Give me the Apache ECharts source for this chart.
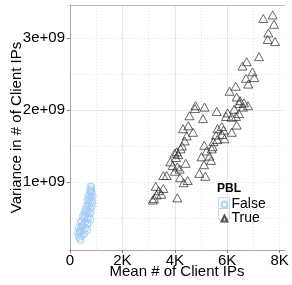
<!DOCTYPE html>
<html>
<head>
<meta charset="utf-8">
<script src="https://cdn.jsdelivr.net/npm/echarts@6/dist/echarts.min.js"></script>
<style>
html, body { margin: 0; padding: 0; background: #fff; }
#chart { width: 292px; height: 285px; }
</style>
</head>
<body>
<div id="chart"></div>
<script>
// PBL = False (light blue circles)
var falseX = [780, 820, 800, 760, 800, 830, 700, 740, 790, 830, 860, 660, 720, 770, 820, 850,
    620, 680, 730, 780, 830, 560, 620, 680, 740, 800, 480, 540, 600, 660, 720, 780,
    400, 460, 520, 590, 650, 710, 330, 390, 450, 520, 600, 660, 300, 360, 420, 500, 560,
    330, 380, 440, 400, 700, 610, 540, 470, 380];
var falseY = [0.94e9, 0.93e9, 0.90e9, 0.88e9, 0.86e9, 0.87e9, 0.80e9, 0.82e9, 0.79e9, 0.83e9, 0.80e9,
    0.74e9, 0.76e9, 0.72e9, 0.75e9, 0.71e9, 0.67e9, 0.65e9, 0.68e9, 0.63e9, 0.66e9,
    0.59e9, 0.57e9, 0.60e9, 0.56e9, 0.58e9, 0.52e9, 0.50e9, 0.53e9, 0.49e9, 0.51e9, 0.48e9,
    0.44e9, 0.46e9, 0.42e9, 0.45e9, 0.41e9, 0.43e9, 0.37e9, 0.35e9, 0.38e9, 0.34e9, 0.36e9, 0.33e9,
    0.30e9, 0.28e9, 0.31e9, 0.27e9, 0.29e9, 0.24e9, 0.22e9, 0.25e9, 0.19e9,
    0.70e9, 0.62e9, 0.55e9, 0.40e9, 0.32e9];

// PBL = True (black triangles)
var trueX = [7378, 7737, 7787, 7569, 7546, 7825, 7214, 6745, 6584, 6966, 7035, 6718, 6806, 6325,
    6088, 6363, 6489, 6642, 6462, 6794, 6603, 6268, 5600, 6012, 6451, 5955, 6164, 6336,
    4790, 4771, 5134, 4561, 5077, 6363, 5794, 5630, 5859, 6172, 4313, 4516, 4695, 5573,
    5802, 5897, 5622, 5477, 5447, 5126, 5409, 5210, 5019, 5325, 5382, 5115, 4935, 5164,
    4454, 4378, 4275, 4225, 4073, 3996, 4134, 4046, 3828, 3920, 4096, 4416, 3996, 4187,
    3561, 3691, 4199, 4340, 4493, 3271, 3561, 3386, 3309, 3485, 3206, 3157, 4096];
var trueY = [3.27e9, 3.32e9, 3.19e9, 3.07e9, 2.98e9, 2.95e9, 2.74e9, 2.67e9, 2.61e9, 2.53e9, 2.45e9,
    2.44e9, 2.36e9, 2.33e9, 2.26e9, 2.18e9, 2.13e9, 2.10e9, 2.09e9, 2.06e9, 2.04e9, 2.01e9,
    1.98e9, 1.96e9, 1.95e9, 1.91e9, 1.90e9, 1.91e9, 2.06e9, 2.02e9, 2.04e9, 1.92e9, 1.88e9,
    1.79e9, 1.77e9, 1.74e9, 1.72e9, 1.69e9, 1.74e9, 1.78e9, 1.69e9, 1.65e9, 1.66e9, 1.60e9,
    1.59e9, 1.56e9, 1.49e9, 1.51e9, 1.46e9, 1.43e9, 1.35e9, 1.36e9, 1.30e9, 1.24e9, 1.12e9,
    1.08e9, 1.64e9, 1.57e9, 1.50e9, 1.46e9, 1.42e9, 1.40e9, 1.38e9, 1.34e9, 1.28e9, 1.23e9,
    1.21e9, 1.26e9, 1.15e9, 1.18e9, 1.09e9, 1.09e9, 1.06e9, 0.99e9, 1.02e9, 0.94e9, 0.91e9,
    0.88e9, 0.82e9, 0.83e9, 0.77e9, 0.75e9, 0.78e9];

var xTicks = [0, 2000, 4000, 6000, 8000];
var yTicks = [1e9, 2e9, 3e9];
var xRange = [-38, 8206];
var yRange = [0.056e9, 3.458e9];

function pairs(xs, ys) {
    return xs.map(function (x, i) { return [x, ys[i]]; });
}

var font = 'Liberation Sans';
var dom = document.getElementById('chart');
var myChart = echarts.init(dom, null, { renderer: 'canvas' });

var option = {
    animation: false,
    grid: { left: 69, right: 7, top: 5, bottom: 35, containLabel: false, outerBoundsMode: 'none' },
    title: {
        text: 'PBL',
        left: 217,
        top: 183,
        padding: 0,
        textStyle: { fontSize: 12, fontWeight: 'bold', color: '#000', fontFamily: font }
    },
    // grey key boxes of the legend
    graphic: [
        { type: 'rect', left: 218, top: 197, shape: { width: 11, height: 11 },
          style: { fill: '#fff', stroke: '#d4d4d4', lineWidth: 1 } },
        { type: 'rect', left: 218, top: 208, shape: { width: 11, height: 11 },
          style: { fill: '#fff', stroke: '#d4d4d4', lineWidth: 1 } }
    ],
    legend: {
        orient: 'vertical',
        left: 220.5,
        top: 197.5,
        padding: 0,
        itemGap: 0,
        itemWidth: 6,
        itemHeight: 6,
        textStyle: { fontSize: 14, lineHeight: 11, color: '#000', fontFamily: font, padding: [1, 0, 0, -1] },
        data: ['False', 'True']
    },
    xAxis: [{
        // minor dotted grid + top border
        type: 'value', min: xRange[0], max: xRange[1],
        minInterval: 1000, maxInterval: 1000,
        position: 'top',
        axisLine: { show: true, lineStyle: { color: '#bdbdbd', width: 1 } },
        axisTick: { show: false }, axisLabel: { show: false },
        splitLine: { show: true, showMinLine: false, showMaxLine: false,
            lineStyle: { color: '#e2e2e2', type: [1, 2], width: 1 } }
    }, {
        type: 'value', min: xRange[0], max: xRange[1],
        minInterval: 2000, maxInterval: 2000,
        position: 'bottom',
        name: 'Mean # of Client IPs',
        nameLocation: 'middle',
        nameGap: 14.5,
        nameMoveOverlap: false,
        nameTextStyle: { fontSize: 15, color: '#000', fontFamily: font, verticalAlign: 'top' },
        axisLine: { show: true, lineStyle: { color: '#a8a8a8', width: 1 } },
        axisTick: { show: true, length: 3, customValues: xTicks, lineStyle: { color: '#7a7a7a' } },
        axisLabel: {
            show: true, margin: 3.5, fontSize: 15, color: '#000', fontFamily: font,
            customValues: xTicks,
            formatter: function (v) { return v === 0 ? '0' : (v / 1000) + 'K'; }
        },
        splitLine: { show: true, showMinLine: false, showMaxLine: false,
            lineStyle: { color: '#e8e8e8', width: 1 } }
    }],
    yAxis: [{
        type: 'value', min: yRange[0], max: yRange[1],
        minInterval: 0.5e9, maxInterval: 0.5e9,
        position: 'right',
        axisLine: { show: true, lineStyle: { color: '#bdbdbd', width: 1 } },
        axisTick: { show: false }, axisLabel: { show: false },
        splitLine: { show: true, showMinLine: false, showMaxLine: false,
            lineStyle: { color: '#e2e2e2', type: [1, 2], width: 1 } }
    }, {
        type: 'value', min: yRange[0], max: yRange[1],
        minInterval: 1e9, maxInterval: 1e9,
        position: 'left',
        name: 'Variance in # of Client IPs',
        nameLocation: 'middle',
        nameGap: 44.5,
        nameMoveOverlap: false,
        nameTextStyle: { fontSize: 15, color: '#000', fontFamily: font },
        axisLine: { show: true, lineStyle: { color: '#a8a8a8', width: 1 } },
        axisTick: { show: true, length: 3, customValues: yTicks, lineStyle: { color: '#7a7a7a' } },
        axisLabel: {
            show: true, margin: 4, fontSize: 15, color: '#000', fontFamily: font,
            customValues: yTicks,
            formatter: function (v) { return Math.round(v / 1e9) + 'e+09'; }
        },
        splitLine: { show: true, showMinLine: false, showMaxLine: false,
            lineStyle: { color: '#e8e8e8', width: 1 } }
    }],
    series: [{
        name: 'False',
        type: 'scatter',
        xAxisIndex: 1, yAxisIndex: 1,
        symbol: 'circle',
        symbolSize: 7,
        itemStyle: { color: 'rgba(0,0,0,0)', borderColor: '#9cc9f5', borderWidth: 1 },
        data: pairs(falseX, falseY)
    }, {
        name: 'True',
        type: 'scatter',
        xAxisIndex: 1, yAxisIndex: 1,
        symbol: 'triangle',
        symbolSize: [9, 8],
        itemStyle: { color: 'rgba(0,0,0,0)', borderColor: '#2a2a2a', borderWidth: 0.9 },
        data: pairs(trueX, trueY)
    }]
};
myChart.setOption(option);
</script>
</body>
</html>
